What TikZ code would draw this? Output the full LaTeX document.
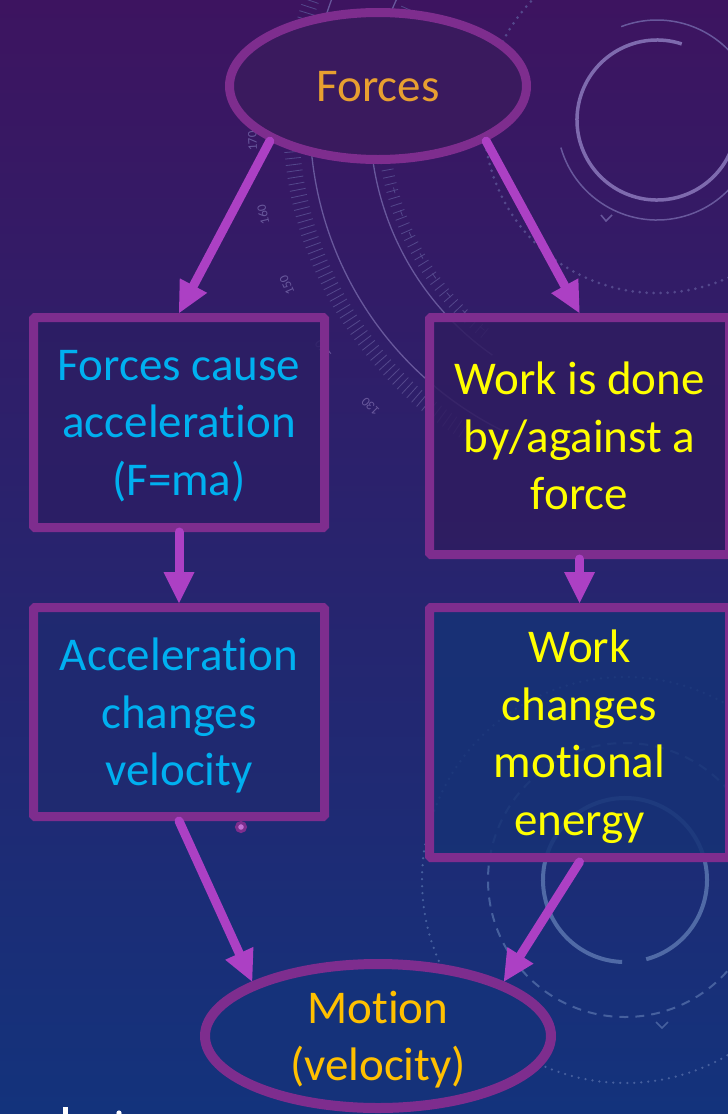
\documentclass[tikz,border=0pt]{standalone}
\usepackage{fontspec}
\setmainfont{Carlito}[RawFeature={-liga}]
\usetikzlibrary{shapes.geometric,arrows.meta,calc}

% palette
\definecolor{bgtop}{RGB}{61,20,96}
\definecolor{bgmid}{RGB}{37,34,104}
\definecolor{bgbot}{RGB}{19,51,124}
\definecolor{rim}{RGB}{126,45,142}
\definecolor{arrowc}{RGB}{172,64,196}
\definecolor{forcefill}{RGB}{58,26,94}
\definecolor{ltfill}{RGB}{44,30,100}
\definecolor{rtfill}{RGB}{47,28,96}
\definecolor{lbfill}{RGB}{31,42,112}
\definecolor{rbfill}{RGB}{22,50,118}
\definecolor{motionfill}{RGB}{21,50,122}
\definecolor{orangetxt}{RGB}{232,160,48}
\definecolor{goldtxt}{RGB}{255,192,0}
\definecolor{cyantxt}{RGB}{0,176,240}
\definecolor{yellowtxt}{RGB}{255,255,0}
\definecolor{ringA}{RGB}{126,106,174}
\definecolor{ringB}{RGB}{104,88,156}
\definecolor{ringC}{RGB}{84,72,140}
\definecolor{ringD}{RGB}{80,106,166}
\definecolor{ringE}{RGB}{70,96,158}

\begin{document}
\begin{tikzpicture}[x=1pt,y=-1pt,
  words/.style={font=\fontsize{47}{57.5}\selectfont, align=center, text depth=0pt},
  bubble/.style={words, ellipse, draw=rim, line width=9pt, inner sep=0pt},
  card/.style={words, rectangle, draw=rim, line width=9pt, inner sep=0pt,
               rounded corners=1.5pt, fill opacity=0.85, text opacity=1},
  link/.style={draw=arrowc, line width=9pt, line cap=round,
               -{Triangle[length=31pt,width=31pt,line width=0pt]}},
  degree/.style={font=\fontsize{13}{13}\selectfont, text=ringB, inner sep=0pt}]

\useasboundingbox (0,0) rectangle (728,1114);
\clip (0,0) rectangle (728,1114);

% backdrop
\shade[top color=bgtop, middle color=bgmid, bottom color=bgbot] (0,0) rectangle (728,1114);

% dial ornaments, upper right (math angles inside)
\begin{scope}[shift={(657,120)}, yscale=-1]
  \draw[ringA, line width=3.5pt] (72:80) arc[start angle=72, end angle=385, radius=80];
  \draw[ringB, line width=1.5pt] (196:100) arc[start angle=196, end angle=471, radius=100];
  \draw[ringB, line width=1.5pt] (-56,-95) -- (-51,-101) -- (-45,-95);
  \draw[ringC, line width=3pt, line cap=round, dash pattern=on 0pt off 7pt] (0,0) circle[radius=173];
  % protractor scale, outer ring
  \draw[ringB, line width=1.3pt] (148:347) arc[start angle=148, end angle=245, radius=347];
  \foreach \a in {150,151,...,240}
    \draw[ringC, line width=0.8pt] (\a:358) -- (\a:374);
  \foreach \a/\t in {172.5/180,183/170,193.5/160,204/150,214.5/140,225/130}
    \node[degree, rotate=\a-90] (deg\t) at (\a:405) {\t};
  % protractor scale, inner ring
  \draw[ringB, line width=1.3pt] (150:287) arc[start angle=150, end angle=235, radius=287];
  \foreach \a in {156,157.5,...,232}
    \draw[ringC, line width=0.8pt] (\a:268) -- (\a:280);
  \foreach \a in {195,200,...,230}
    \draw[ringC, line width=0.8pt] ($(\a:272)+(\a+90:3)$) -- ($(\a:272)+(\a-90:3)$);
\end{scope}

% dial ornaments, lower right
\begin{scope}[shift={(625,880)}, yscale=-1]
  \draw[ringD, line width=4pt] (-75:82) arc[start angle=-75, end angle=268, radius=82];
  \draw[ringE, line width=2pt, dash pattern=on 9pt off 7pt] (0,0) circle[radius=137];
  \draw[ringE, line width=2.5pt, line cap=round, dash pattern=on 0pt off 7pt] (0,0) circle[radius=203];
  \draw[ringE, line width=1.5pt] (31,-142) -- (37,-148) -- (43,-142);
\end{scope}

% concept map
\node[bubble, fill=forcefill, text=orangetxt, minimum width=297pt, minimum height=147pt]
  (forces) at (378,86) {Forces};

\node[card, fill=ltfill, text=cyantxt, minimum width=291pt, minimum height=210pt]
  (lt) at (179,422.5) {Forces cause\\acceleration\\(F=ma)};
\node[card, fill=rtfill, text=yellowtxt, minimum width=300pt, minimum height=237pt]
  (rt) at (579.5,436) {Work is done\\by/against a\\force};
\node[card, fill=lbfill, text=cyantxt, minimum width=291pt, minimum height=209pt]
  (lb) at (179,712) {Acceleration\\changes\\velocity};
\node[card, fill=rbfill, text=yellowtxt, minimum width=300pt, minimum height=250pt]
  (rb) at (579.5,732.5) {Work\\changes\\motional\\energy};

\node[bubble, line width=10pt, fill=motionfill, text=goldtxt, minimum width=346pt, minimum height=144pt]
  (motion) at (378,1036) {Motion\\(velocity)};

\node[circle, draw=rim, line width=3pt, fill=arrowc!75!white, minimum size=9pt, inner sep=0pt]
  (pin) at (241,827) {};

% connectors
\draw[link] (forces.south west) -- (lt.north);
\draw[link] (forces.south east) -- (rt.north);
\draw[link] (lt.south) -- (lb.north);
\draw[link] (rt.south) -- (rb.north);
\draw[link] (lb.south) -- (motion.north west);
\draw[link] (rb.south) -- (motion.north east);

% white marks at the lower edge
\fill[white] (63,1107) rectangle (68,1114);
\fill[white] (119,1113) circle[radius=2.6];
\end{tikzpicture}
\end{document}
